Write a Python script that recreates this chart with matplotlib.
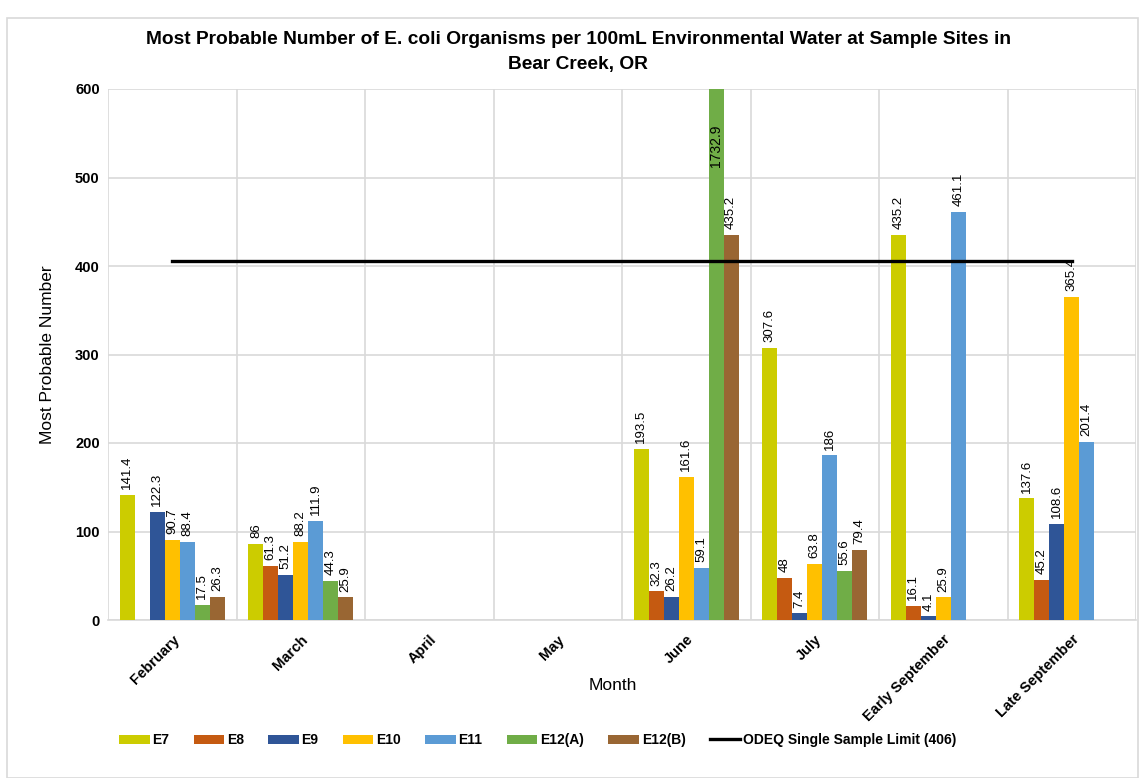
import matplotlib
matplotlib.use("Agg")
import matplotlib.pyplot as plt
import numpy as np
from matplotlib.patches import Rectangle

months = ["February", "March", "April", "May", "June", "July",
          "Early September", "Late September"]
sites = ["E7", "E8", "E9", "E10", "E11", "E12(A)", "E12(B)"]
E7 = [141.4, 86, None, None, 193.5, 307.6, 435.2, 137.6]
E8 = [None, 61.3, None, None, 32.3, 48, 16.1, 45.2]
E9 = [122.3, 51.2, None, None, 26.2, 7.4, 4.1, 108.6]
E10 = [90.7, 88.2, None, None, 161.6, 63.8, 25.9, 365.4]
E11 = [88.4, 111.9, None, None, 59.1, 186, 461.1, 201.4]
E12A = [17.5, 44.3, None, None, 1732.9, 55.6, None, None]
E12B = [26.3, 25.9, None, None, 435.2, 79.4, None, None]
limit = 406

series = [E7, E8, E9, E10, E11, E12A, E12B]
colors = ["#CCCC00", "#C55A11", "#2F5597", "#FFC000", "#5B9BD5", "#70AD47", "#996633"]

plt.rcParams['font.family'] = ['Liberation Sans', 'DejaVu Sans']

fig = plt.figure(figsize=(11.39, 7.78), dpi=100)
ax = fig.add_axes([108/1139, 1 - 620/778, (1136-108)/1139, (620-89)/778])

ymax = 600
x = np.arange(len(months))
w = 1 / (7 + 1.6)

for i, (vals, c, name) in enumerate(zip(series, colors, sites)):
    pos = x + (i - 3) * w
    h = [np.nan if v is None else v for v in vals]
    ax.bar(pos, h, width=w, color=c, label=name, zorder=3)
    for p, v in zip(pos, vals):
        if v is None:
            continue
        lab = f"{v:g}"
        if v > ymax:
            ax.text(p, ymax - 40, lab, rotation=90, ha='center', va='top',
                    fontsize=10, zorder=5)
        else:
            ax.annotate(lab, (p, v), xytext=(0, 4), textcoords='offset points',
                        rotation=90, ha='center', va='bottom', fontsize=9.5, zorder=5)

ax.plot(x, [limit] * len(x), color='black', linewidth=2.4, zorder=4,
        label="ODEQ Single Sample Limit (406)")

ax.set_ylim(0, ymax)
ax.set_xlim(-0.5, len(months) - 0.5)
ax.set_yticks(range(0, 601, 100))
ax.set_yticklabels([str(t) for t in range(0, 601, 100)], fontweight='bold', fontsize=10.5)
ax.set_xticks(x)
ax.set_xticklabels(months, rotation=45, ha='right', rotation_mode='anchor',
                   fontweight='bold', fontsize=10.5)
ax.tick_params(length=0, pad=6)
ax.tick_params(axis='x', pad=9)

# grille
for b in np.arange(-0.5, len(months), 1):
    ax.axvline(b, color='#d9d9d9', linewidth=1.2, zorder=1)
ax.yaxis.grid(True, color='#d9d9d9', linewidth=1.2, zorder=1)
ax.set_axisbelow(True)
for s in ['top', 'right', 'left']:
    ax.spines[s].set_visible(False)
ax.spines['bottom'].set_color('#d9d9d9')
ax.spines['bottom'].set_linewidth(1.2)

ax.set_ylabel("Most Probable Number", fontsize=12.5, labelpad=14)
fig.text(613/1139, 1 - 686/778, "Month", ha='center', va='center', fontsize=12.5)

fig.text(578/1139, 1 - 40/778,
         "Most Probable Number of E. coli Organisms per 100mL Environmental Water at Sample Sites in",
         ha='center', va='center', fontsize=13.8, fontweight='bold')
fig.text(578/1139, 1 - 65/778, "Bear Creek, OR",
         ha='center', va='center', fontsize=13.8, fontweight='bold')

# légende : barres d'abord, la limite à la fin
handles, labels = ax.get_legend_handles_labels()
handles = handles[1:] + handles[:1]
labels = labels[1:] + labels[:1]
fig.legend(handles, labels, loc='center left', bbox_to_anchor=(112/1139, 1 - 740/778),
           ncol=8, frameon=False, prop={'weight': 'bold', 'size': 10},
           handlelength=2.2, handleheight=0.6, columnspacing=1.75, handletextpad=0.2,
           borderpad=0)

# cadre du graphique
fig.patches.append(Rectangle((7/1139, 0), 1 - 7/1139 - 0.001, 1 - 18/778,
                             transform=fig.transFigure, fill=False,
                             edgecolor='#d9d9d9', linewidth=1.2))

fig.savefig("out.png", dpi=100)
